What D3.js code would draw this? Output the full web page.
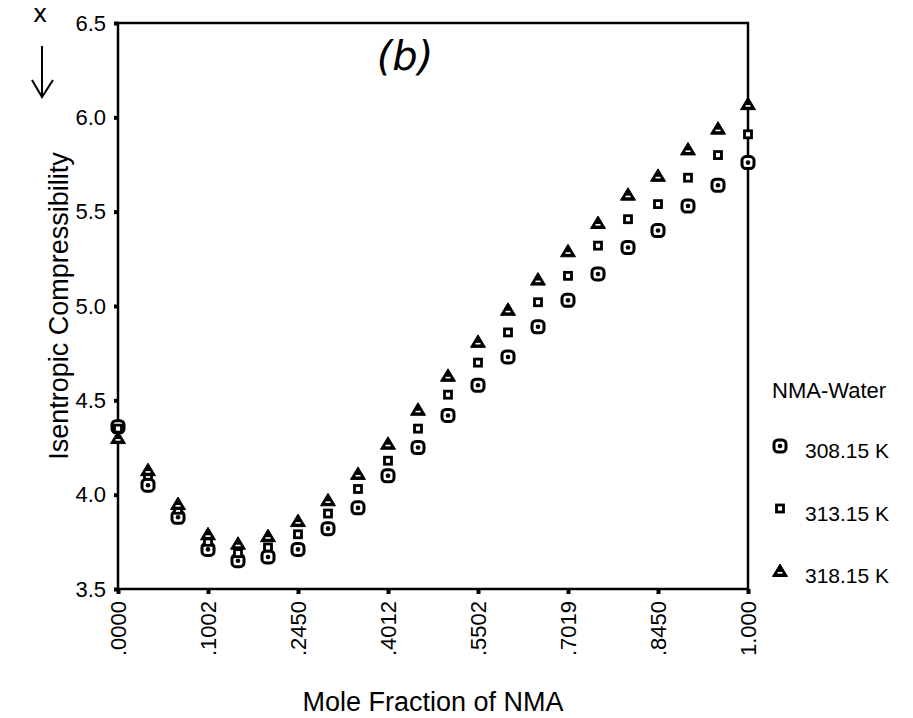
<!DOCTYPE html>
<html>
<head>
<meta charset="utf-8">
<script src="https://cdn.jsdelivr.net/npm/d3@7"></script>
<style>
  body { margin: 0; background: #fff; }
  text { font-family: "Liberation Sans", Arial, sans-serif; fill: #000; }
  .axis path, .axis line { stroke: #000; }
</style>
</head>
<body>
<script>
var margin = {top: 23, bottom: 129, left: 118, right: 165};
var width = 913 - margin.left - margin.right;
var height = 718 - margin.top - margin.bottom;

// x tick labels (one every 3 points) and the measured series
var xLabels = [".0000", ".1002", ".2450", ".4012", ".5502", ".7019", ".8450", "1.000"];
var yTicks = [3.5, 4.0, 4.5, 5.0, 5.5, 6.0, 6.5];
var seriesNames = ["308.15 K", "313.15 K", "318.15 K"];
var k308 = [4.36, 4.05, 3.88, 3.71, 3.65, 3.67, 3.71, 3.82, 3.93, 4.10, 4.25, 4.42, 4.58, 4.73, 4.89, 5.03, 5.17, 5.31, 5.40, 5.53, 5.64, 5.76];
var k313 = [4.35, 4.10, 3.92, 3.75, 3.69, 3.72, 3.79, 3.90, 4.03, 4.18, 4.35, 4.53, 4.70, 4.86, 5.02, 5.16, 5.32, 5.46, 5.54, 5.68, 5.80, 5.91];
var k318 = [4.30, 4.13, 3.95, 3.79, 3.74, 3.78, 3.86, 3.97, 4.11, 4.27, 4.45, 4.63, 4.81, 4.98, 5.14, 5.29, 5.44, 5.59, 5.69, 5.83, 5.94, 6.07];

var svg = d3.select("body")
  .append("svg")
  .attr("width", 913)
  .attr("height", 718);

var g = svg.append("g")
  .attr("transform", "translate(" + margin.left + "," + margin.top + ")");

var xScale = d3.scaleLinear()
  .domain([0, k308.length - 1])
  .range([0, width]);

var yScale = d3.scaleLinear()
  .domain([3.5, 6.5])
  .range([height, 0]);

// frame
g.append("rect")
  .attr("width", width)
  .attr("height", height)
  .attr("fill", "none")
  .attr("stroke", "#000")
  .attr("stroke-width", 2.5);

// Y axis
var yAxis = d3.axisLeft(yScale)
  .tickValues(yTicks)
  .tickFormat(d3.format(".1f"))
  .tickSize(4)
  .tickPadding(8);

g.append("g")
  .attr("class", "axis")
  .call(yAxis)
  .call(function(a){
    a.select(".domain").remove();
    a.selectAll("line").attr("stroke-width", 4);
    a.selectAll("text").style("font-size", "22px");
  });

// X axis (labels every third point)
var xAxis = d3.axisBottom(xScale)
  .tickValues(d3.range(0, k308.length, 3))
  .tickFormat(function(d, i){ return xLabels[i]; })
  .tickSize(5);

g.append("g")
  .attr("class", "axis")
  .attr("transform", "translate(0," + height + ")")
  .call(xAxis)
  .call(function(a){
    a.select(".domain").remove();
    a.selectAll("line").attr("stroke-width", 4);
    a.selectAll("text")
      .style("font-size", "22px")
      .attr("text-anchor", "end")
      .attr("transform", "rotate(-90)")
      .attr("x", -12)
      .attr("y", 0)
      .attr("dy", "0.35em");
  });

// marker drawers
function markCircle(sel){
  sel.append("rect").attr("x", -6).attr("y", -6).attr("width", 12).attr("height", 12)
    .attr("rx", 4).attr("fill", "#fff").attr("stroke", "#000").attr("stroke-width", 3);
  sel.append("circle").attr("r", 2.3).attr("fill", "#000");
}
function markSquare(sel){
  sel.append("rect").attr("x", -3.5).attr("y", -3.5).attr("width", 7).attr("height", 7)
    .attr("fill", "#fff").attr("stroke", "#000").attr("stroke-width", 2.8);
}
function markTriangle(sel){
  sel.append("path").attr("d", "M0,-7L7.5,5.5L-7.5,5.5Z")
    .attr("fill", "#000").attr("stroke", "#000").attr("stroke-width", 1).attr("stroke-linejoin", "round");
  sel.append("rect").attr("x", -2.5).attr("y", 1).attr("width", 5).attr("height", 1.6).attr("fill", "#fff");
}

var series = [
  {name: seriesNames[0], values: k308, draw: markCircle},
  {name: seriesNames[1], values: k313, draw: markSquare},
  {name: seriesNames[2], values: k318, draw: markTriangle}
];

series.forEach(function(s){
  g.append("g").selectAll("g")
    .data(s.values)
    .enter()
    .append("g")
    .attr("transform", function(d, i){ return "translate(" + xScale(i) + "," + yScale(d) + ")"; })
    .each(function(){ s.draw(d3.select(this)); });
});

// axis titles
svg.append("text")
  .text("Isentropic Compressibility")
  .attr("transform", "translate(59," + (margin.top + height / 2) + ") rotate(-90)")
  .attr("text-anchor", "middle")
  .attr("dy", "0.35em")
  .style("font-size", "27px");

svg.append("text")
  .text("Mole Fraction of NMA")
  .attr("x", margin.left + width / 2)
  .attr("y", 711)
  .attr("text-anchor", "middle")
  .style("font-size", "27px");

// handwritten notes
svg.append("text")
  .text("(b)")
  .attr("x", 405)
  .attr("y", 70)
  .attr("text-anchor", "middle")
  .style("font-size", "40px")
  .style("font-style", "italic")
  .style("font-family", "DejaVu Sans");

svg.append("text")
  .text("x")
  .attr("x", 40)
  .attr("y", 22)
  .attr("text-anchor", "middle")
  .style("font-size", "24px")
  .style("font-family", "DejaVu Sans");

svg.append("line").attr("x1", 42).attr("y1", 46).attr("x2", 42).attr("y2", 96)
  .attr("stroke", "#000").attr("stroke-width", 2);
svg.append("path").attr("d", "M32,80L42,97L53,80")
  .attr("fill", "none").attr("stroke", "#000").attr("stroke-width", 2);

// legend
var legend = svg.append("g").attr("transform", "translate(780,0)");
legend.append("text")
  .text("NMA-Water")
  .attr("x", -8)
  .attr("y", 398)
  .style("font-size", "22px");

series.forEach(function(s, i){
  var row = legend.append("g").attr("transform", "translate(0," + (446 + i * 62.5) + ")");
  s.draw(row.append("g"));
  row.append("text")
    .text(s.name)
    .attr("x", 25)
    .attr("y", 5)
    .attr("dy", "0.35em")
    .style("font-size", "21px");
});
</script>
</body>
</html>
